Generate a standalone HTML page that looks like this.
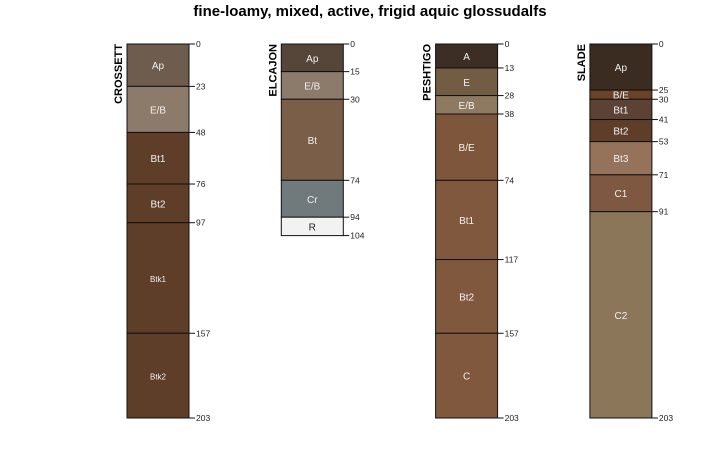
<!DOCTYPE html>
<html><head><meta charset="utf-8"><style>
body{margin:0;background:#fff;font-family:"Liberation Sans",sans-serif}
</style></head><body>
<svg id="chart" width="725" height="450" xmlns="http://www.w3.org/2000/svg">
<text x="370" y="16" text-anchor="middle" font-size="15" font-weight="bold" fill="#000">fine-loamy, mixed, active, frigid aquic glossudalfs</text>
</svg>
<script>
const profileNames = ["CROSSETT","ELCAJON","PESHTIGO","SLADE"];
const horizonNames = [
 ["Ap","E/B","Bt1","Bt2","Btk1","Btk2"],
 ["Ap","E/B","Bt","Cr","R"],
 ["A","E","E/B","B/E","Bt1","Bt2","C"],
 ["Ap","B/E","Bt1","Bt2","Bt3","C1","C2"]];
const horizonTops = [
 [0,23,48,76,97,157],
 [0,15,30,74,94],
 [0,13,28,38,74,117,157],
 [0,25,30,41,53,71,91]];
const horizonBottoms = [
 [23,48,76,97,157,203],
 [15,30,74,94,104],
 [13,28,38,74,117,157,203],
 [25,30,41,53,71,91,203]];
const horizonColors = [
 ["#6e5c4e","#8c7a6a","#5e3e28","#5e3e28","#5e3e28","#5e3e28"],
 ["#56463a","#8c7a6a","#7a5e48","#707a7c","#f2f2f2"],
 ["#3c2e24","#725c44","#8e7a60","#7e563c","#80583e","#80583e","#80583e"],
 ["#3a2c20","#6a4228","#5c4234","#5e3e28","#94735a","#7e5840","#8c765a"]];
const svg = document.getElementById('chart');
const NS = "http://www.w3.org/2000/svg";
const y = d => 44 + d * 374 / 203;
const xLeft = i => 127 + i * 154.3;
const W = 62;
function mk(tag, attrs){const e=document.createElementNS(NS,tag);for(const k in attrs)e.setAttribute(k,attrs[k]);svg.appendChild(e);return e;}
profileNames.forEach((name,i)=>{
  const x0 = xLeft(i);
  horizonNames[i].forEach((h,j)=>{
    const t=horizonTops[i][j], b=horizonBottoms[i][j];
    const r=mk('rect',{x:x0,y:y(t),width:W,height:y(b)-y(t),fill:horizonColors[i][j],stroke:'#111','stroke-width':1});
    
    
    const small = (y(b)-y(t))<12;
    const tx=mk('text',{x:x0+W/2,y:(y(t)+y(b))/2+4,'text-anchor':'middle','font-size':small?10:(h.length>3?8:10),fill:h==='R'?'#222':'#f0f0f0'});
    tx.textContent=h;
    
    
  });
  const depths=[horizonTops[i][0]].concat(horizonBottoms[i]);
  depths.forEach(d=>{
    const ln=mk('line',{x1:x0+W,y1:y(d),x2:x0+W+6,y2:y(d),stroke:'#111','stroke-width':1});
    
    
    const lt=mk('text',{x:x0+W+7,y:y(d)+3,'font-size':8.5,fill:'#222'});
    lt.textContent=d;
    
    
  });
  const nt=mk('text',{x:0,y:0,'text-anchor':'end','font-size':11,'font-weight':'bold',fill:'#000',transform:`translate(${x0-5},44) rotate(-90)`});
  nt.textContent=name;
  
  
});
</script>
</body></html>
